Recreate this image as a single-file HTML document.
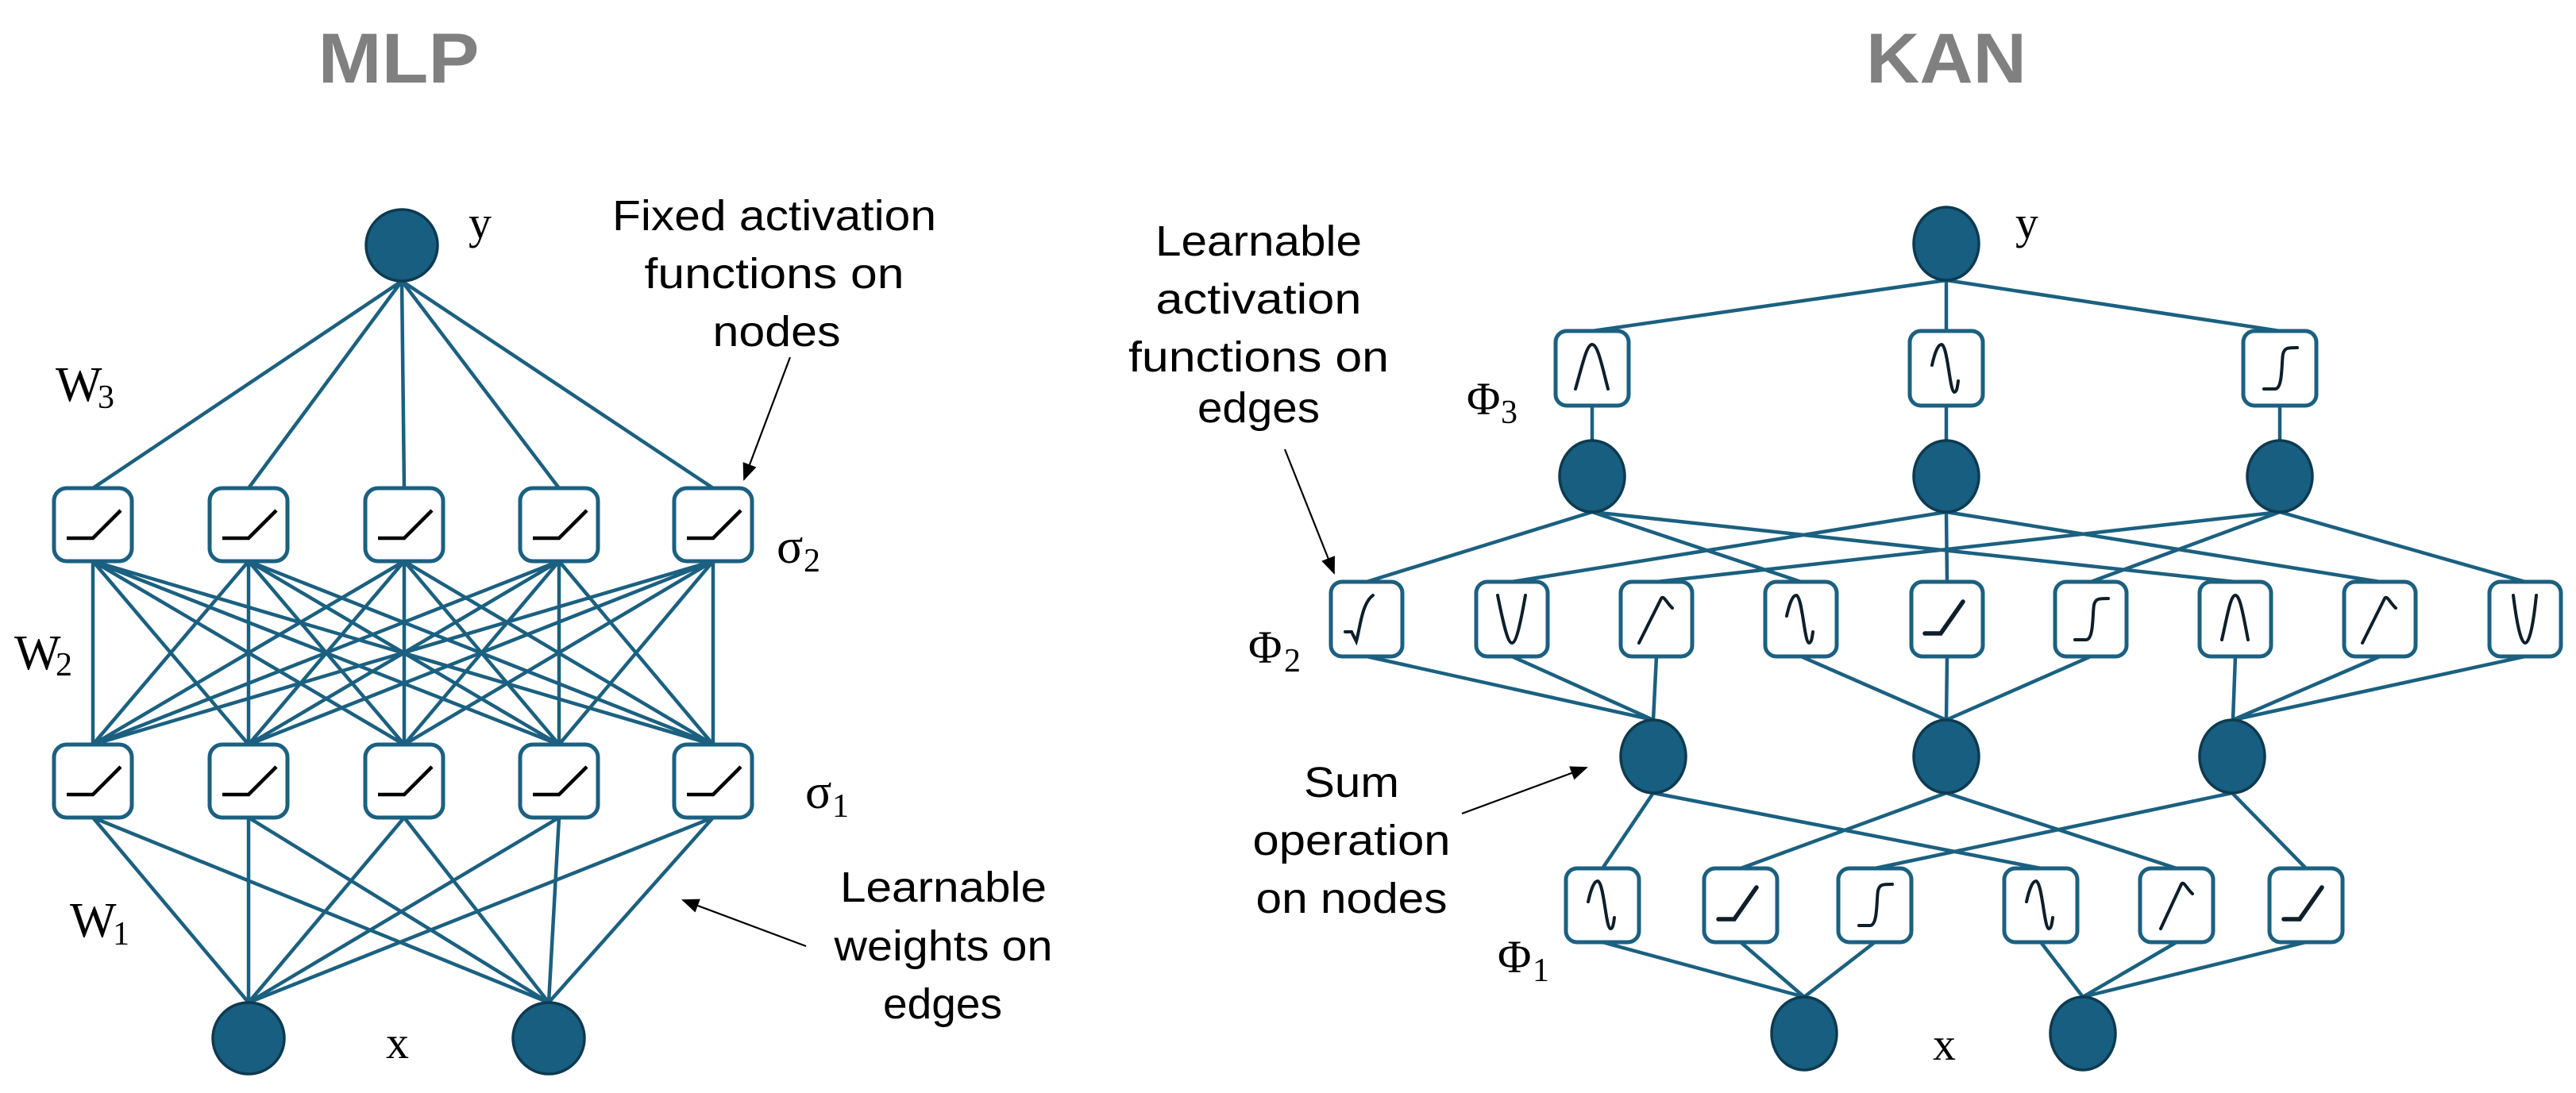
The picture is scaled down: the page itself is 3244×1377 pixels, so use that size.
<!DOCTYPE html>
<html><head><meta charset="utf-8"><style>
html,body{margin:0;padding:0;background:#fff;}
svg{display:block;}
</style></head><body>
<svg width="3244" height="1377" viewBox="0 0 3244 1377" xmlns="http://www.w3.org/2000/svg">
<defs>
<marker id="ah2" markerWidth="22" markerHeight="18" refX="20" refY="9" orient="auto" markerUnits="userSpaceOnUse">
<path d="M0,0 L22,9 L0,18 z" fill="#000"/>
</marker>
</defs>
<rect width="3244" height="1377" fill="#fff"/>

<text x="502" y="104" text-anchor="middle" font-family="Liberation Sans, sans-serif" font-weight="bold" font-size="89" fill="#808080" textLength="203" lengthAdjust="spacingAndGlyphs">MLP</text>
<text x="2451" y="104" text-anchor="middle" font-family="Liberation Sans, sans-serif" font-weight="bold" font-size="89" fill="#808080" textLength="202" lengthAdjust="spacingAndGlyphs">KAN</text>

<g stroke="#1b6080" stroke-width="4.5" fill="none" stroke-linecap="round">
<path d="M506,354 L117,615 M506,354 L313,615 M506,354 L509,615 M506,354 L704,615 M506,354 L898,615"/>
<path d="
M117,707 L117,938 M117,707 L313,938 M117,707 L509,938 M117,707 L704,938 M117,707 L898,938
M313,707 L117,938 M313,707 L313,938 M313,707 L509,938 M313,707 L704,938 M313,707 L898,938
M509,707 L117,938 M509,707 L313,938 M509,707 L509,938 M509,707 L704,938 M509,707 L898,938
M704,707 L117,938 M704,707 L313,938 M704,707 L509,938 M704,707 L704,938 M704,707 L898,938
M898,707 L117,938 M898,707 L313,938 M898,707 L509,938 M898,707 L704,938 M898,707 L898,938"/>
<path d="
M117,1030 L313,1263 M117,1030 L691,1263
M313,1030 L313,1263 M313,1030 L691,1263
M509,1030 L313,1263 M509,1030 L691,1263
M704,1030 L313,1263 M704,1030 L691,1263
M898,1030 L313,1263 M898,1030 L691,1263"/>

<path d="M2451,353 L2005,417 M2451,353 L2451,417 M2451,353 L2871,417"/>
<path d="M2005,511 L2005,555 M2451,511 L2451,555 M2871,511 L2871,555"/>
<path d="
M2005,645 L1721,733 M2005,645 L2268,733 M2005,645 L2815,733
M2451,645 L1904,733 M2451,645 L2452,733 M2451,645 L2997,733
M2871,645 L2086,733 M2871,645 L2633,733 M2871,645 L3180,733"/>
<path d="
M1721,827 L2082,907 M1904,827 L2082,907 M2086,827 L2082,907
M2268,827 L2451,907 M2452,827 L2451,907 M2633,827 L2451,907
M2815,827 L2812,907 M2997,827 L2812,907 M3180,827 L2812,907"/>
<path d="
M2082,999 L2018,1094 M2082,999 L2570,1094
M2451,999 L2192,1094 M2451,999 L2741,1094
M2811,999 L2361,1094 M2811,999 L2904,1094"/>
<path d="
M2018,1187 L2272,1256 M2192,1187 L2272,1256 M2361,1187 L2272,1256
M2570,1187 L2623,1256 M2741,1187 L2623,1256 M2904,1187 L2623,1256"/>
</g>

<g fill="#175e80" stroke="#0e3a50" stroke-width="3.5">
<circle cx="506" cy="309" r="45"/>
<circle cx="313" cy="1308" r="45"/>
<circle cx="691" cy="1308" r="45"/>
<ellipse cx="2451" cy="307" rx="41" ry="46"/>
<ellipse cx="2005" cy="600" rx="41" ry="45"/>
<ellipse cx="2451" cy="600" rx="41" ry="45"/>
<ellipse cx="2871" cy="600" rx="41" ry="45"/>
<ellipse cx="2082" cy="953" rx="41" ry="46"/>
<ellipse cx="2451" cy="953" rx="41" ry="46"/>
<ellipse cx="2811" cy="953" rx="41" ry="46"/>
<ellipse cx="2272" cy="1302" rx="41" ry="46"/>
<ellipse cx="2623" cy="1302" rx="41" ry="46"/>
</g>

<g fill="#fff" stroke="#1b6080" stroke-width="5">
<rect x="68" y="615" width="98" height="92" rx="16"/>
<rect x="264" y="615" width="98" height="92" rx="16"/>
<rect x="460" y="615" width="98" height="92" rx="16"/>
<rect x="655" y="615" width="98" height="92" rx="16"/>
<rect x="849" y="615" width="98" height="92" rx="16"/>
<rect x="68" y="938" width="98" height="92" rx="16"/>
<rect x="264" y="938" width="98" height="92" rx="16"/>
<rect x="460" y="938" width="98" height="92" rx="16"/>
<rect x="655" y="938" width="98" height="92" rx="16"/>
<rect x="849" y="938" width="98" height="92" rx="16"/>
<rect x="1959" y="417" width="92" height="94" rx="14"/>
<rect x="2405" y="417" width="92" height="94" rx="14"/>
<rect x="2825" y="417" width="92" height="94" rx="14"/>
<rect x="1676" y="733" width="90" height="94" rx="14"/>
<rect x="1859" y="733" width="90" height="94" rx="14"/>
<rect x="2041" y="733" width="90" height="94" rx="14"/>
<rect x="2223" y="733" width="90" height="94" rx="14"/>
<rect x="2407" y="733" width="90" height="94" rx="14"/>
<rect x="2588" y="733" width="90" height="94" rx="14"/>
<rect x="2770" y="733" width="90" height="94" rx="14"/>
<rect x="2952" y="733" width="90" height="94" rx="14"/>
<rect x="3135" y="733" width="90" height="94" rx="14"/>
<rect x="1972" y="1094" width="92" height="93" rx="14"/>
<rect x="2146" y="1094" width="92" height="93" rx="14"/>
<rect x="2315" y="1094" width="92" height="93" rx="14"/>
<rect x="2524" y="1094" width="92" height="93" rx="14"/>
<rect x="2695" y="1094" width="92" height="93" rx="14"/>
<rect x="2858" y="1094" width="92" height="93" rx="14"/>
</g>

<g stroke="#000" stroke-width="4.5" fill="none">
<path d="M-33,17 L0,17 L35,-18" transform="translate(117,661)"/>
<path d="M-33,17 L0,17 L35,-18" transform="translate(313,661)"/>
<path d="M-33,17 L0,17 L35,-18" transform="translate(509,661)"/>
<path d="M-33,17 L0,17 L35,-18" transform="translate(704,661)"/>
<path d="M-33,17 L0,17 L35,-18" transform="translate(898,661)"/>
<path d="M-33,17 L0,17 L35,-18" transform="translate(117,984)"/>
<path d="M-33,17 L0,17 L35,-18" transform="translate(313,984)"/>
<path d="M-33,17 L0,17 L35,-18" transform="translate(509,984)"/>
<path d="M-33,17 L0,17 L35,-18" transform="translate(704,984)"/>
<path d="M-33,17 L0,17 L35,-18" transform="translate(898,984)"/>
</g>
<g stroke="#0d1f2a" stroke-width="4" fill="none" stroke-linecap="round">
<path transform="translate(2005,464)" d="M-21,26 C-12,-5 -7,-30 0,-30 C7,-30 12,-5 20,26"/>
<path transform="translate(2451,464)" d="M-18,-4 C-14,-22 -10,-30 -6,-30 C2,-28 4,28 10,30 C13,30 14,24 15,16"/>
<path transform="translate(2871,464)" d="M-20,26 L-6,26 C4,26 2,-8 4,-18 C6,-26 10,-26 22,-26"/>
<path transform="translate(1721,780)" d="M-27,16 L-19,16 L-13,28 C-8,10 -6,-20 8,-30"/>
<path transform="translate(1904,780)" d="M-18,-30 C-10,10 -5,30 0,30 C5,30 10,10 17,-30"/>
<path transform="translate(2086,780)" d="M-22,30 L6,-26 C9,-31 13,-20 20,-14"/>
<path transform="translate(2268,780)" d="M-18,-4 C-14,-22 -10,-30 -6,-30 C2,-28 4,28 10,30 C13,30 14,24 15,16"/>
<path transform="translate(2452,780)" d="M-28,18 L-8,18 L20,-22" stroke-width="5.5"/>
<path transform="translate(2633,780)" d="M-20,26 L-6,26 C4,26 2,-8 4,-18 C6,-26 10,-26 22,-26"/>
<path transform="translate(2815,780)" d="M-17,26 C-10,-5 -6,-30 0,-30 C6,-30 10,-5 16,26"/>
<path transform="translate(2997,780)" d="M-22,30 L6,-26 C9,-31 13,-20 20,-14"/>
<path transform="translate(3180,780)" d="M-15,-30 C-10,10 -5,30 0,30 C5,30 10,10 14,-30"/>
<path transform="translate(2018,1140)" d="M-18,-4 C-14,-22 -10,-30 -6,-30 C2,-28 4,28 10,30 C13,30 14,24 15,16"/>
<path transform="translate(2192,1140)" d="M-28,18 L-8,18 L20,-22" stroke-width="5.5"/>
<path transform="translate(2361,1140)" d="M-20,26 L-6,26 C4,26 2,-8 4,-18 C6,-26 10,-26 22,-26"/>
<path transform="translate(2570,1140)" d="M-18,-4 C-14,-22 -10,-30 -6,-30 C2,-28 4,28 10,30 C13,30 14,24 15,16"/>
<path transform="translate(2741,1140)" d="M-20,30 L6,-26 C9,-31 13,-20 20,-14"/>
<path transform="translate(2904,1140)" d="M-28,18 L-8,18 L20,-22" stroke-width="5.5"/>
</g>

<g font-family="Liberation Serif, serif" fill="#000">
<text x="590" y="300" font-size="58">y</text>
<text x="70" y="505" font-size="62">W</text><text x="123" y="514" font-size="42">3</text>
<text x="18" y="843" font-size="62">W</text><text x="70" y="851" font-size="42">2</text>
<text x="88" y="1180" font-size="62">W</text><text x="142" y="1190" font-size="42">1</text>
<text x="978" y="709" font-size="62">σ</text><text x="1012" y="720" font-size="42">2</text>
<text x="1014" y="1018" font-size="62">σ</text><text x="1048" y="1029" font-size="42">1</text>
<text x="486" y="1333" font-size="58">x</text>

<text x="2538" y="300" font-size="58">y</text>
<text x="1847" y="522" font-size="58">Φ</text><text x="1890" y="533" font-size="42">3</text>
<text x="1572" y="835" font-size="58">Φ</text><text x="1617" y="846" font-size="42">2</text>
<text x="1886" y="1225" font-size="58">Φ</text><text x="1930" y="1236" font-size="42">1</text>
<text x="2434" y="1335" font-size="58">x</text>
</g>

<g font-family="Liberation Sans, sans-serif" font-size="54" fill="#000" text-anchor="middle">
<text x="975" y="290" textLength="408" lengthAdjust="spacingAndGlyphs">Fixed activation</text>
<text x="975" y="363" textLength="327" lengthAdjust="spacingAndGlyphs">functions on</text>
<text x="978" y="436" textLength="161" lengthAdjust="spacingAndGlyphs">nodes</text>

<text x="1188" y="1136" textLength="260" lengthAdjust="spacingAndGlyphs">Learnable</text>
<text x="1188" y="1210" textLength="275" lengthAdjust="spacingAndGlyphs">weights on</text>
<text x="1187" y="1283" textLength="150" lengthAdjust="spacingAndGlyphs">edges</text>

<text x="1585" y="322" textLength="260" lengthAdjust="spacingAndGlyphs">Learnable</text>
<text x="1585" y="395" textLength="259" lengthAdjust="spacingAndGlyphs">activation</text>
<text x="1585" y="468" textLength="328" lengthAdjust="spacingAndGlyphs">functions on</text>
<text x="1585" y="532" textLength="154" lengthAdjust="spacingAndGlyphs">edges</text>

<text x="1702" y="1004" textLength="120" lengthAdjust="spacingAndGlyphs">Sum</text>
<text x="1702" y="1077" textLength="249" lengthAdjust="spacingAndGlyphs">operation</text>
<text x="1702" y="1150" textLength="241" lengthAdjust="spacingAndGlyphs">on nodes</text>
</g>

<g stroke="#000" stroke-width="2.2" fill="none">
<line x1="995" y1="450" x2="937" y2="604" marker-end="url(#ah2)"/>
<line x1="1015" y1="1192" x2="860" y2="1134" marker-end="url(#ah2)"/>
<line x1="1618" y1="566" x2="1680" y2="722" marker-end="url(#ah2)"/>
<line x1="1841" y1="1025" x2="1998" y2="967" marker-end="url(#ah2)"/>
</g>
</svg>
</body></html>
